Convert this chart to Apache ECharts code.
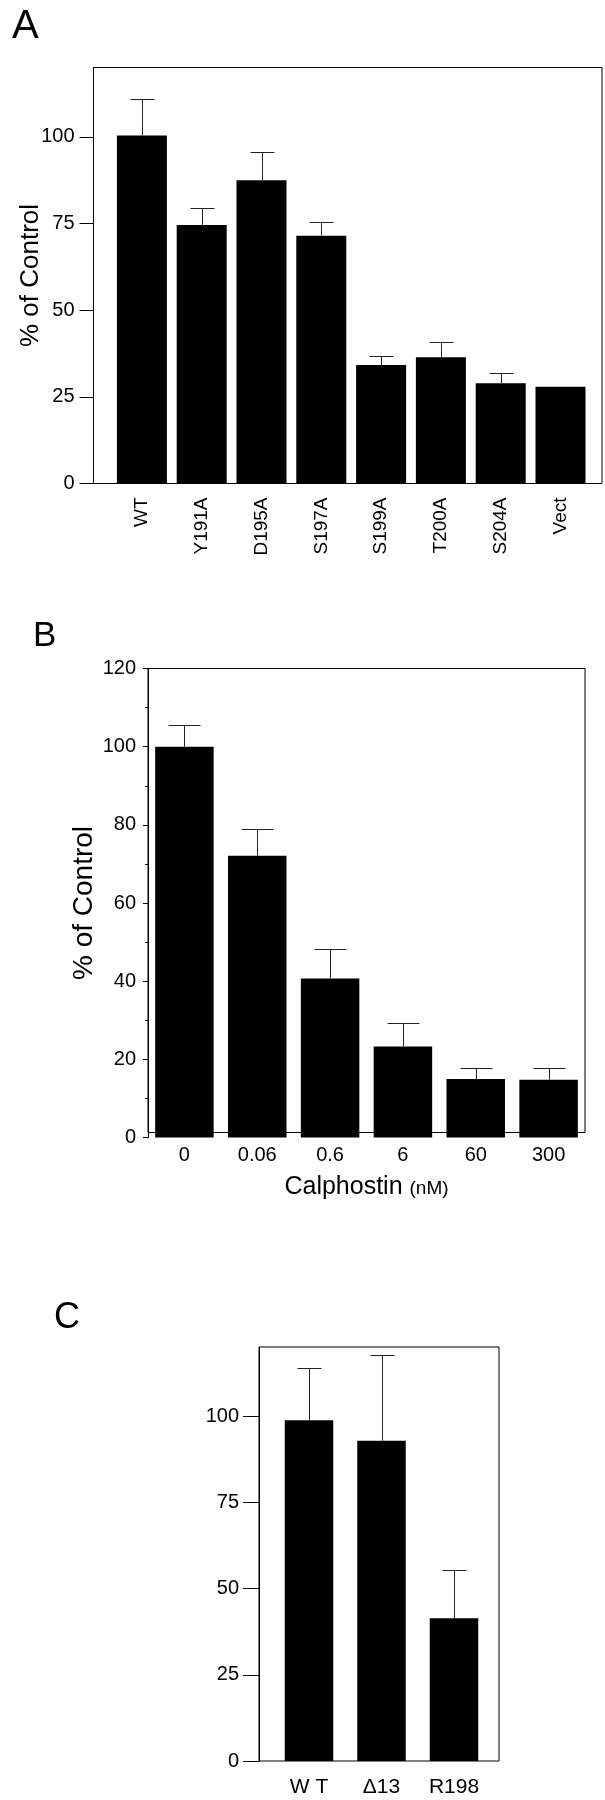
<!DOCTYPE html>
<html>
<head>
<meta charset="utf-8">
<script src="https://cdn.jsdelivr.net/npm/echarts@6.0.0/dist/echarts.min.js"></script>
<style>
html,body{margin:0;padding:0;background:#fff;}
#c{width:605px;height:1800px;}
</style>
</head>
<body>
<div id="c"></div>
<script>
// ---------- data ----------
const aCategories = ['WT', 'Y191A', 'D195A', 'S197A', 'S199A', 'T200A', 'S204A', 'Vect'];
const aMeans      = [100.4, 74.6, 87.5, 71.5, 34.2, 36.4, 28.9, 27.9];
const aErrors     = [10.5, 4.9, 8.2, 3.8, 2.6, 4.4, 2.9, 0];
const aTicks      = [0, 25, 50, 75, 100];

const bCategories = ['0', '0.06', '0.6', '6', '60', '300'];
const bMeans      = [100, 72.1, 40.7, 23.3, 15.0, 14.8];
const bErrors     = [5.6, 6.8, 7.5, 6.1, 2.9, 2.9];
const bTicks      = [0, 20, 40, 60, 80, 100, 120];

const cCategories = ['W T', 'Δ13', 'R198'];
const cMeans      = [98.8, 92.8, 41.4];
const cErrors     = [15.2, 24.8, 14.1];
const cTicks      = [0, 25, 50, 75, 100];

// ---------- helpers ----------
const FONT = '"Liberation Sans", Arial, Helvetica, sans-serif';

function errorRender(capW) {
  return function (params, api) {
    const i = api.value(0), m = api.value(1), e = api.value(2);
    if (!e) return null;
    const p0 = api.coord([i, m]);
    const p1 = api.coord([i, m + e]);
    const x = Math.round(p0[0]) + 0.5;
    const yTop = Math.round(p1[1]) + 0.5;
    const st = { stroke: '#222', lineWidth: 1 };
    return {
      type: 'group',
      children: [
        { type: 'line', shape: { x1: x, y1: p0[1], x2: x, y2: yTop }, style: st },
        { type: 'line', shape: { x1: x - capW / 2, y1: yTop, x2: x + capW / 2, y2: yTop }, style: st }
      ]
    };
  };
}
function errData(means, errs) { return means.map((m, i) => [i, m, errs[i]]); }

const hiddenValue = (gi) => ({ type: 'value', gridIndex: gi, show: false, min: 0, max: 1 });
const hiddenY = (gi) => ({ type: 'value', gridIndex: gi, show: false, min: 0, max: 120 });
const axisBlack = { show: true, lineStyle: { color: '#000', width: 1 } };

// ---------- chart ----------
const chart = echarts.init(document.getElementById('c'), null, { renderer: 'canvas' });

const option = {
  backgroundColor: '#fff',
  animation: false,
  textStyle: { fontFamily: FONT, color: '#000' },
  graphic: [
    { type: 'text', x: 12, y: 27, style: { text: 'A', font: '40px ' + FONT, fill: '#000', textVerticalAlign: 'middle' } },
    { type: 'text', x: 33, y: 636, style: { text: 'B', font: '35px ' + FONT, fill: '#000', textVerticalAlign: 'middle' } },
    { type: 'text', x: 54, y: 1318, style: { text: 'C', font: '36px ' + FONT, fill: '#000', textVerticalAlign: 'middle' } }
  ],
  grid: [
    // A frame
    { left: 93.5, top: 67.5, width: 508.5, height: 416, show: true, borderColor: '#000', borderWidth: 1, containLabel: false },
    // A bars
    { left: 112, top: 67.5, width: 478.4, height: 416 },
    // B frame
    { left: 148, top: 668.5, width: 437, height: 464, show: true, borderColor: '#000', borderWidth: 1 },
    // B plot
    { left: 148, top: 668.5, width: 437, height: 469 },
    // C frame
    { left: 259, top: 1347, width: 240, height: 414, show: true, borderColor: '#000', borderWidth: 1 },
    // C bars
    { left: 272.75, top: 1347, width: 217.5, height: 414 }
  ],
  xAxis: [
    hiddenValue(0),
    {
      type: 'category', gridIndex: 1, data: aCategories,
      axisLine: { show: false }, axisTick: { show: false },
      axisLabel: { rotate: 90, fontSize: 19, color: '#000', margin: 14, fontFamily: FONT }
    },
    hiddenValue(2),
    {
      type: 'category', gridIndex: 3, data: bCategories,
      axisLine: { show: false }, axisTick: { show: false },
      axisLabel: { fontSize: 20, color: '#000', margin: 8, fontFamily: FONT },
      name: '{a|Calphostin }{b|(nM)}', nameLocation: 'middle', nameGap: 37, nameMoveOverlap: false,
      nameTextStyle: {
        rich: {
          a: { fontSize: 25, color: '#000', fontFamily: FONT },
          b: { fontSize: 19, color: '#000', fontFamily: FONT, padding: [3, 0, 0, 0] }
        }
      }
    },
    hiddenValue(4),
    {
      type: 'category', gridIndex: 5, data: cCategories,
      axisLine: { show: false }, axisTick: { show: false },
      axisLabel: { fontSize: 21, color: '#000', margin: 16, fontFamily: FONT }
    }
  ],
  yAxis: [
    {
      type: 'value', gridIndex: 0, min: 0, max: 120,
      axisLine: axisBlack,
      axisTick: { show: true, inside: false, length: 14, lineStyle: { color: '#000' }, customValues: aTicks },
      axisLabel: { fontSize: 20, color: '#000', margin: 19, customValues: aTicks, fontFamily: FONT },
      splitLine: { show: false },
      name: '% of Control', nameLocation: 'middle', nameRotate: 90, nameGap: 50, nameMoveOverlap: false,
      nameTextStyle: { fontSize: 26, color: '#000', fontFamily: FONT }
    },
    hiddenY(1),
    hiddenY(2),
    {
      type: 'value', gridIndex: 3, min: 0, max: 120, interval: 20,
      axisLine: axisBlack,
      axisTick: { show: true, inside: false, length: 5, lineStyle: { color: '#000' } },
      minorTick: { show: true, splitNumber: 2, length: 3, lineStyle: { color: '#000' } },
      axisLabel: { fontSize: 20, color: '#000', margin: 12, fontFamily: FONT },
      splitLine: { show: false },
      name: '% of Control', nameLocation: 'middle', nameRotate: 90, nameGap: 50, nameMoveOverlap: false,
      nameTextStyle: { fontSize: 28, color: '#000', fontFamily: FONT }
    },
    {
      type: 'value', gridIndex: 4, min: 0, max: 120,
      axisLine: axisBlack,
      axisTick: { show: true, inside: false, length: 16, lineStyle: { color: '#000' }, customValues: cTicks },
      axisLabel: { fontSize: 20, color: '#000', margin: 20, customValues: cTicks, fontFamily: FONT },
      splitLine: { show: false }
    },
    hiddenY(5)
  ],
  series: [
    { type: 'bar', xAxisIndex: 1, yAxisIndex: 1, data: aMeans, barWidth: 50, itemStyle: { color: '#000' } },
    { type: 'custom', xAxisIndex: 1, yAxisIndex: 1, data: errData(aMeans, aErrors), renderItem: errorRender(24), z: 3 },

    { type: 'bar', xAxisIndex: 3, yAxisIndex: 3, data: bMeans, barWidth: 58.5, itemStyle: { color: '#000' } },
    { type: 'custom', xAxisIndex: 3, yAxisIndex: 3, data: errData(bMeans, bErrors), renderItem: errorRender(32), z: 3 },

    { type: 'bar', xAxisIndex: 5, yAxisIndex: 5, data: cMeans, barWidth: 48.5, itemStyle: { color: '#000' } },
    { type: 'custom', xAxisIndex: 5, yAxisIndex: 5, data: errData(cMeans, cErrors), renderItem: errorRender(24), z: 3 }
  ]
};

chart.setOption(option);
</script>
</body>
</html>
